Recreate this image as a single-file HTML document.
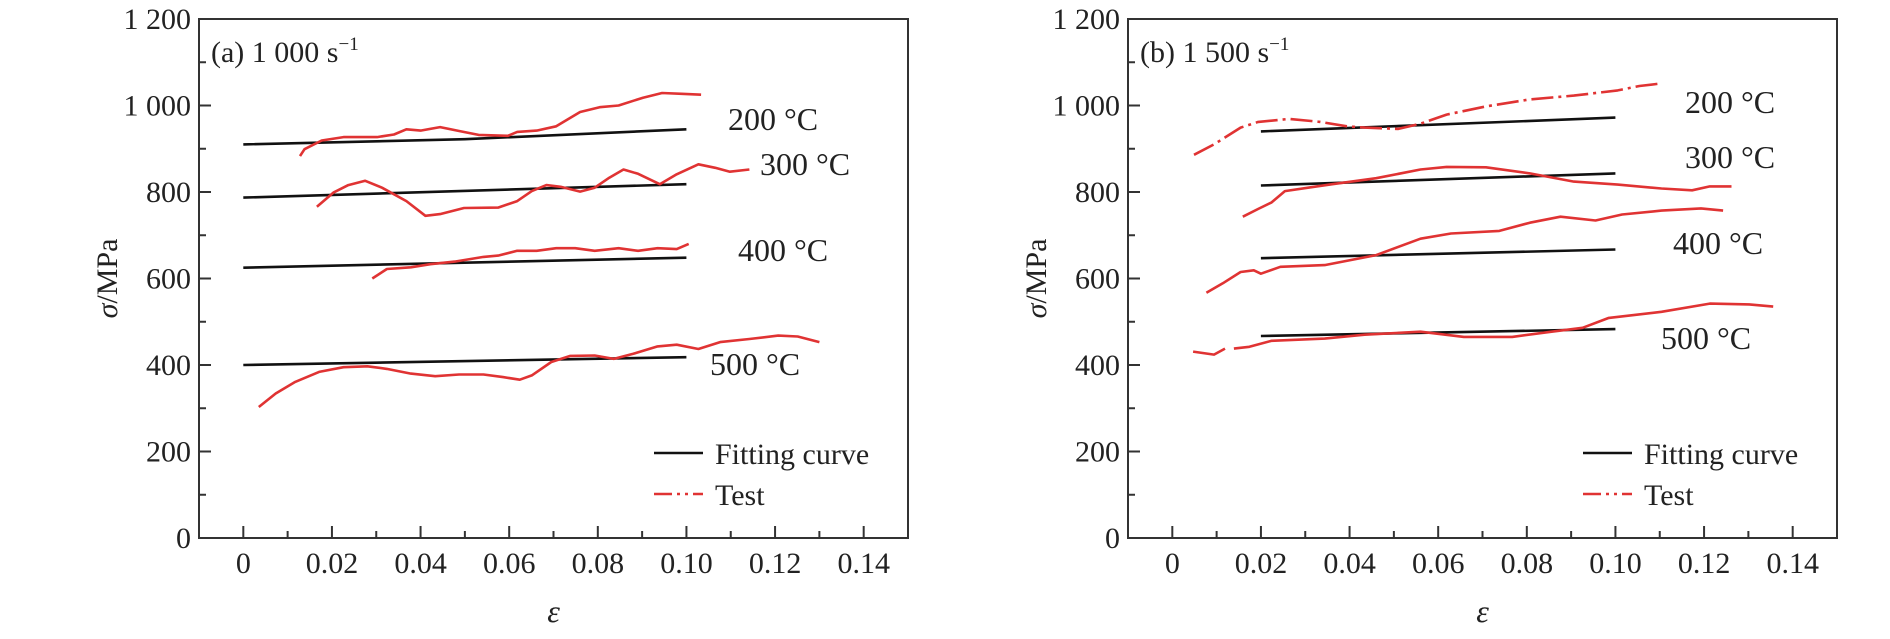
<!DOCTYPE html>
<html><head><meta charset="utf-8"><style>
html,body{margin:0;padding:0;background:#fff;}
svg text{font-family:"Liberation Serif",serif;fill:#222;}
</style></head><body>
<svg id="chart" width="1890" height="634" viewBox="0 0 1890 634" xmlns="http://www.w3.org/2000/svg"></svg>
<script>
// ---- data ----
const xTicks = [0, 0.02, 0.04, 0.06, 0.08, 0.10, 0.12, 0.14];
const xTickLabels = ["0", "0.02", "0.04", "0.06", "0.08", "0.10", "0.12", "0.14"];
const yTicks = [0, 200, 400, 600, 800, 1000, 1200];
const yTickLabels = ["0", "200", "400", "600", "800", "1 000", "1 200"];
const temps = ["200 °C", "300 °C", "400 °C", "500 °C"];

// panel a fitting lines [eps, sigma]
const fitA200 = [[0, 910], [0.05, 922], [0.10, 945]];
const fitA300 = [[0, 787], [0.10, 818]];
const fitA400 = [[0, 625], [0.10, 648]];
const fitA500 = [[0, 400], [0.10, 418]];
// panel a tests
const testA200 = [[0.0128,883],[0.0138,899],[0.0177,919],[0.0226,927],[0.0302,927],[0.034,933],[0.0368,945],[0.040,942],[0.0444,950],[0.0487,941],[0.0531,932],[0.0597,930],[0.0618,939],[0.0662,942],[0.0706,952],[0.076,985],[0.0804,996],[0.0847,1000],[0.0902,1018],[0.0945,1029],[0.0989,1027],[0.1033,1025]];
const testA300 = [[0.0166,766],[0.0204,799],[0.0237,816],[0.0275,826],[0.0313,810],[0.0368,779],[0.0411,745],[0.0444,749],[0.0498,763],[0.0575,764],[0.0618,779],[0.0651,802],[0.0684,816],[0.0716,812],[0.076,801],[0.0793,810],[0.0826,833],[0.0858,852],[0.0891,842],[0.094,818],[0.0978,841],[0.1027,864],[0.1065,856],[0.1098,847],[0.1142,852]];
const testA400 = [[0.0291,600],[0.0324,622],[0.0378,626],[0.0422,633],[0.0477,639],[0.0542,650],[0.0575,653],[0.0618,664],[0.0662,664],[0.0706,670],[0.0749,670],[0.0793,664],[0.0847,670],[0.0891,664],[0.0935,670],[0.0978,668],[0.1005,680]];
const testA500 = [[0.0035,303],[0.0073,334],[0.0117,361],[0.0171,384],[0.0226,395],[0.028,397],[0.0324,391],[0.0378,380],[0.0433,374],[0.0487,378],[0.0542,378],[0.0586,372],[0.0624,366],[0.0651,376],[0.0695,407],[0.0738,421],[0.0793,422],[0.0836,414],[0.088,426],[0.0935,443],[0.0978,447],[0.1027,437],[0.1076,453],[0.1142,460],[0.1207,468],[0.1251,466],[0.13,453]];

// panel b fitting lines
const fitB200 = [[0.02, 940], [0.10, 972]];
const fitB300 = [[0.02, 815], [0.10, 843]];
const fitB400 = [[0.02, 647], [0.10, 667]];
const fitB500 = [[0.02, 467], [0.10, 483]];
// panel b tests
const testB200 = [[0.0049,886],[0.0094,910],[0.0154,949],[0.0194,962],[0.0264,969],[0.0334,962],[0.0394,952],[0.0434,949],[0.051,946],[0.056,958],[0.0619,979],[0.0708,998],[0.0807,1014],[0.0906,1023],[0.1005,1035],[0.1054,1045],[0.1104,1051]];
const testB300 = [[0.0159,743],[0.0194,761],[0.0224,776],[0.0254,802],[0.0314,811],[0.0361,818],[0.046,832],[0.056,852],[0.0619,858],[0.0708,857],[0.0807,843],[0.0906,824],[0.1005,817],[0.1104,808],[0.1173,804],[0.1213,813],[0.1262,813]];
const testB400 = [[0.0077,567],[0.0114,589],[0.0154,615],[0.0184,619],[0.02,611],[0.0244,627],[0.0344,631],[0.046,654],[0.056,692],[0.0629,704],[0.0738,710],[0.0807,729],[0.0876,743],[0.0955,734],[0.1015,748],[0.1104,757],[0.1193,762],[0.1243,757]];
const testB500a = [[0.0047,431],[0.0094,424],[0.0119,438]];
const testB500b = [[0.0139,438],[0.0174,442],[0.0224,456],[0.0344,461],[0.0434,470],[0.056,477],[0.0658,465],[0.0767,465],[0.0856,477],[0.0926,486],[0.0985,509],[0.1104,523],[0.1213,542],[0.1302,540],[0.1356,535]];

// ---- drawing ----
const svg = document.getElementById('chart');
const NS = 'http://www.w3.org/2000/svg';
function mk(tag, attrs, parent){const e=document.createElementNS(NS,tag);for(const k in attrs)e.setAttribute(k,attrs[k]);(parent||svg).appendChild(e);return e;}

const W = 709, T = 19, B = 538, XMIN = -0.01, XMAX = 0.15, YMAX = 1200;
function makeAxes(L){
  return {
    x: v => L + (v - XMIN) / (XMAX - XMIN) * W,
    y: v => B - v / YMAX * (B - T)
  };
}
function pathFrom(pts, ax){return pts.map((p,i)=>(i?'L':'M')+ax.x(p[0]).toFixed(1)+','+ax.y(p[1]).toFixed(1)).join(' ');}

function panel(L, id, title, fits, tests, tempPos, dashFirst){
  const ax = makeAxes(L);
  const g = mk('g', {});
  
  
  const frame = mk('rect', {x:L, y:T, width:W, height:B-T, fill:'none', stroke:'#333', 'stroke-width':2}, g);
  
  
  for (let v = 0; v <= 0.145; v += 0.01) {
    const major = Math.round(v*100) % 2 === 0;
    const t = mk('line', {x1:ax.x(v), x2:ax.x(v), y1:B, y2:B-(major?12:7), stroke:'#333', 'stroke-width':2}, g);
    
    
  }
  xTicks.forEach((v,i)=>{
    const t = mk('text', {x:ax.x(v), y:B+35, 'font-size':30, 'text-anchor':'middle'}, g);
    t.textContent = xTickLabels[i];
    
    
  });
  for (let v = 0; v <= 1200; v += 100) {
    const major = v % 200 === 0;
    const t = mk('line', {x1:L, x2:L+(major?12:7), y1:ax.y(v), y2:ax.y(v), stroke:'#333', 'stroke-width':2}, g);
    
    
  }
  yTicks.forEach((v,i)=>{
    const t = mk('text', {x:L-8, y:ax.y(v)+10, 'font-size':30, 'text-anchor':'end'}, g);
    t.textContent = yTickLabels[i];
    
    
  });
  const yt = mk('text', {x:0, y:0, 'font-size':30, 'text-anchor':'middle', transform:`translate(${L-82},${(T+B)/2}) rotate(-90)`}, g);
  yt.innerHTML = '<tspan font-style="italic">σ</tspan>/MPa';
  
  
  const xt = mk('text', {x:L+W/2, y:622, 'font-size':32, 'font-style':'italic', 'text-anchor':'middle'}, g);
  xt.textContent = 'ε';
  
  
  const pt = mk('text', {x:L+12, y:62, 'font-size':30}, g);
  pt.innerHTML = title;
  
  
  fits.forEach((f,i)=>{
    const p = mk('path', {d:pathFrom(f, ax), fill:'none', stroke:'#111', 'stroke-width':2.6}, g);
    
    
  });
  tests.forEach((tc,i)=>{
    const p = mk('path', {d:pathFrom(tc, ax), fill:'none', stroke:'#e03333', 'stroke-width':2.6, 'stroke-linejoin':'round'}, g);
    if (dashFirst && i === 0) p.setAttribute('stroke-dasharray', '22,5,3,5');
    
    
  });
  temps.forEach((s,i)=>{
    const t = mk('text', {x:L+tempPos[i][0], y:tempPos[i][1]+11, 'font-size':32}, g);
    t.textContent = s;
    
    
  });
  const lg = mk('g', {}, g);
  
  
  mk('line', {x1:L+455, x2:L+504, y1:453, y2:453, stroke:'#111', 'stroke-width':2.6}, lg);
  const l1 = mk('text', {x:L+516, y:464, 'font-size':30}, lg);
  l1.textContent = 'Fitting curve';
  
  
  mk('line', {x1:L+455, x2:L+504, y1:494, y2:494, stroke:'#e03333', 'stroke-width':2.6, 'stroke-dasharray':'18,5,3,5,3,5'}, lg);
  const l2 = mk('text', {x:L+516, y:505, 'font-size':30}, lg);
  l2.textContent = 'Test';
  
  
}

panel(199, 'a', '(a) 1 000 s<tspan dy="-12" font-size="19">−1</tspan>',
  [fitA200, fitA300, fitA400, fitA500],
  [testA200, testA300, testA400, testA500],
  [[529,119],[561,164],[539,250],[511,364]], false);
panel(1128, 'b', '(b) 1 500 s<tspan dy="-12" font-size="19">−1</tspan>',
  [fitB200, fitB300, fitB400, fitB500],
  [testB200, testB300, testB400, testB500a, testB500b],
  [[557,102],[557,157],[545,243],[533,338]], true);
</script>
</body></html>
